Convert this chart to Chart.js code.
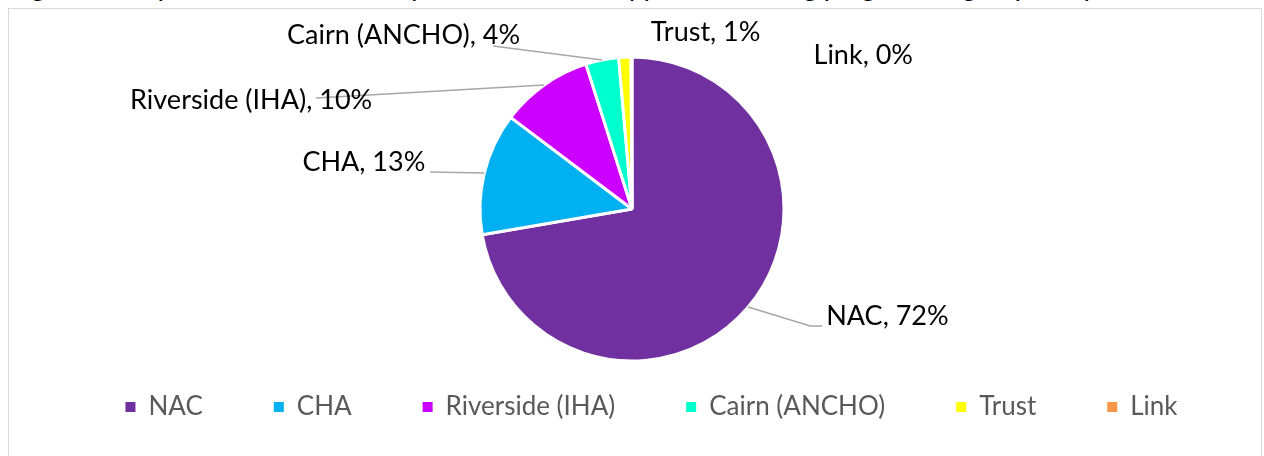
<!DOCTYPE html>
<html>
<head>
<meta charset="utf-8">
<script src="https://cdn.jsdelivr.net/npm/chart.js@4.4.1/dist/chart.umd.min.js"></script>
<style>
  html, body { margin: 0; padding: 0; background: #fff; overflow: hidden; }
  body { width: 1264px; height: 456px; position: relative; }
  #title { position: absolute; left: 12px; top: -31px; font: italic 28px Lato, sans-serif; line-height: 1.2; white-space: nowrap; color: #000; }
  #frame { position: absolute; left: 8px; top: 8px; width: 1254px; height: 470px; border: 1px solid #d9d9d9; box-sizing: border-box; }
  #chart { position: absolute; left: 9px; top: 9px; }
</style>
</head>
<body>
<div id="title">Figure 4: Proportion of tenancies by landlord in the supported housing programme group sample (%)</div>
<div id="frame"></div>
<canvas id="chart" width="1252" height="447"></canvas>
<script>
// Data
const categories = ['NAC', 'CHA', 'Riverside (IHA)', 'Cairn (ANCHO)', 'Trust', 'Link'];
const shares = [72.3, 13.0, 9.8, 3.5, 1.3, 0.1];
const sliceColours = ['#7030A0', '#00B0F0', '#CC00FF', '#00FFCC', '#FFFF00', '#F79646'];

// Where each data label sits, relative to the middle of its slice's rim
const labelPlacement = [
    { dx: 78, dy: 9, align: 'left', leader: [[62, 19], [74, 19]] },
    { dx: -59, dy: -11, align: 'right', leader: [[-54, -1]] },
    { dx: -172, dy: 15, align: 'right', leader: [[-228, 13]] },
    { dx: -82, dy: -25, align: 'right', leader: [[-109, -14]] },
    { dx: 26, dy: -25, align: 'left', leader: [] },
    { dx: 182, dy: -2, align: 'left', leader: [] }
];

const FONT = 'Lato, "Open Sans", sans-serif';

// Draw "Name, xx%" labels outside the pie with grey leader lines
const outsideLabels = {
    id: 'outsideLabels',
    afterDatasetsDraw(chart) {
        const ctx = chart.ctx;
        const meta = chart.getDatasetMeta(0);
        ctx.save();
        meta.data.forEach((arc, i) => {
            const p = arc.getProps(['x', 'y', 'startAngle', 'endAngle', 'outerRadius'], true);
            const mid = (p.startAngle + p.endAngle) / 2;
            const ex = p.x + Math.cos(mid) * p.outerRadius;
            const ey = p.y + Math.sin(mid) * p.outerRadius;
            const place = labelPlacement[i];

            if (place.leader.length) {
                ctx.beginPath();
                ctx.moveTo(ex, ey);
                place.leader.forEach(([dx, dy]) => ctx.lineTo(ex + dx, ey + dy));
                ctx.strokeStyle = '#a6a6a6';
                ctx.lineWidth = 1.5;
                ctx.stroke();
            }

            ctx.font = '27px ' + FONT;
            ctx.fillStyle = '#000';
            ctx.textAlign = place.align;
            ctx.textBaseline = 'middle';
            ctx.fillText(`${categories[i]}, ${Math.round(shares[i])}%`, ex + place.dx, ey + place.dy);
        });
        ctx.restore();
    }
};

// Legend sits a little right of the pie's centre line
const legendShift = {
    id: 'legendShift',
    afterLayout(chart) {
        chart.legend.left += 19.5;
        chart.legend.right += 19.5;
    }
};

new Chart(document.getElementById('chart'), {
    type: 'pie',
    data: {
        labels: categories,
        datasets: [{
            data: shares,
            backgroundColor: sliceColours,
            borderColor: '#ffffff',
            borderWidth: 3,
            radius: 152
        }]
    },
    options: {
        responsive: false,
        animation: false,
        devicePixelRatio: 1,
        layout: { padding: { top: 86, bottom: 26, left: 0, right: 6 } },
        plugins: {
            tooltip: { enabled: false },
            legend: {
                position: 'bottom',
                align: 'center',
                labels: {
                    font: { family: FONT, size: 26 },
                    color: '#595959',
                    boxWidth: 10,
                    boxHeight: 10,
                    padding: 71,
                    generateLabels(chart) {
                        return Chart.overrides.pie.plugins.legend.labels.generateLabels(chart)
                            .map(item => ({ ...item, lineWidth: 0 }));
                    }
                }
            }
        }
    },
    plugins: [outsideLabels, legendShift]
});
</script>
</body>
</html>
